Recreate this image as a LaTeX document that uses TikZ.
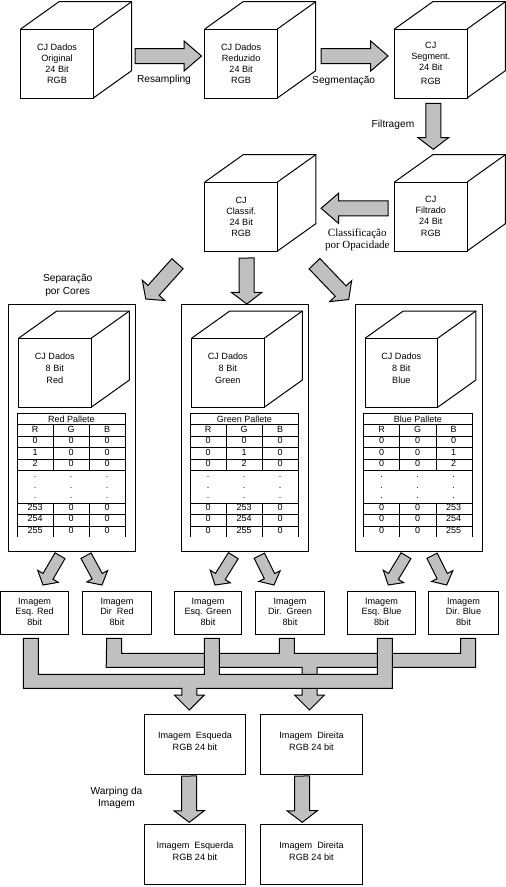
\documentclass[tikz,border=0pt]{standalone}
\usepackage{fontspec}
\setmainfont{Liberation Sans}
\newfontfamily\timesfont{Liberation Serif}
\usetikzlibrary{calc,positioning}
\definecolor{arrowgray}{HTML}{C0C0C0}
\tikzset{
  blockarrow/.style n args={3}{draw=black,fill=arrowgray,line width=1pt,miter limit=4,
    to path={let \p1=($(\tikztotarget)!#3pt!(\tikztostart)$) in
      ($(\tikztostart)!#1pt!90:(\tikztotarget)$) -- ($(\p1)!#1pt!90:(\tikztotarget)$)
      -- ($(\p1)!#2pt!90:(\tikztotarget)$) -- (\tikztotarget)
      -- ($(\p1)!#2pt!-90:(\tikztotarget)$) -- ($(\p1)!#1pt!-90:(\tikztotarget)$)
      -- ($(\tikztostart)!#1pt!-90:(\tikztotarget)$) -- cycle}},
  bigarrow/.style={blockarrow={7.5}{15}{17.4}},
  downarrow/.style={blockarrow={7.5}{15.2}{11.6}},
  slantarrow/.style={blockarrow={5.75}{11.9}{10}},
  busfill/.style={draw=black,fill=arrowgray,line width=1pt},
  cubeface/.style={draw=black,line width=1pt,inner sep=0pt,outer sep=0pt,align=center,
    minimum width=72.6pt,minimum height=69pt,font=\fontsize{9.1}{11}\selectfont},
  panel/.style={draw=black,line width=1pt,inner sep=0pt,outer sep=0pt,
    minimum width=127pt,minimum height=247.4pt},
  imgbox/.style={draw=black,line width=1pt,inner sep=0pt,outer sep=0pt,align=center,
    minimum height=43.4pt,font=\fontsize{9.1}{10.6}\selectfont},
  bigbox/.style={draw=black,line width=1pt,inner sep=0pt,outer sep=0pt,align=center,
    minimum height=60pt,font=\fontsize{9.1}{12}\selectfont},
  steplabel/.style={inner sep=0pt,align=center,font=\fontsize{10.2}{12.3}\selectfont},
  cell/.style={inner sep=0pt,font=\fontsize{9}{10}\selectfont}
}
\newcommand{\cubeback}[1]{
  \draw[line width=1pt] (#1.north west) -- ++(38.3,-27.3)
    -- ([shift={(38.3,-27.3)}]#1.north east) -- ([shift={(38.3,-27.3)}]#1.south east) -- (#1.south east);
  \draw[line width=1pt] (#1.north east) -- ++(38.3,-27.3);
}
\newcommand{\palletetable}[3]{
  \begin{scope}[shift={([shift={(8.6,109)}]#1.north west)}]
    \draw[line width=1pt] (0,123.4) -- (0,0) -- (108.7,0) -- (108.7,123.4);
    \foreach \l in {11,23,34,46,57,90,101,113}
      \draw[line width=1pt] (0,\l) -- (108.7,\l);
    \foreach \cx in {36.3,72.5} {
      \draw[line width=1pt] (\cx,11) -- (\cx,57);
      \draw[line width=1pt] (\cx,90) -- (\cx,123.4);
    }
    \node[cell] (#1title) at (54.3,5.5) {#2};
    \foreach \k/\h in {0/R,1/G,2/B} {
      \node[cell] (#1h\k) at ({18*(2*\k+1)},16.2) {\h};
      \foreach \rw/\ry/\v in {a/27.3/0,b/38.7/1,c/50/2,d/94/253,e/105.5/254,f/117/255} {
        \ifnum\k=#3 \edef\val{\v}\else\edef\val{0}\fi
        \node[cell] (#1c\k\rw) at ({18*(2*\k+1)},\ry) {\val};
      }
      \foreach \n/\ry in {a/64,b/74.4,c/85}
        \node[cell] (#1dot\k\n) at ({18*(2*\k+1)},\ry) {.};
    }
  \end{scope}
}
\begin{document}
\begin{tikzpicture}[x=1pt,y=-1pt]
  \useasboundingbox (0,0) rectangle (506,887);
  \node[cubeface] (orig) at (57,63.5) {CJ Dados\\Original\\24 Bit\\RGB};
  \node[cubeface,right=111.5pt of orig] (redu) {CJ Dados\\Reduzido\\24 Bit\\RGB};
  \node[cubeface,right=117.1pt of redu] (segm) {\null\\[-5pt]CJ\\Segment.\\24 Bit\\[3pt]RGB};
  \node[cubeface,below=84pt of segm] (filt) {CJ\\Filtrado\\24 Bit\\[1.5pt]RGB};
  \node[cubeface,left=117pt of filt] (clas) {CJ\\Classif.\\24 Bit\\RGB};
  \node[panel] (panelr) at (72,428) {};
  \node[panel,right=46pt of panelr] (panelg) {};
  \node[panel,right=46.5pt of panelg] (panelb) {};
  \node[cubeface,below right=34pt and 10pt of panelr.north west] (cuber)
    {CJ Dados\\[1pt]8 Bit\\[1pt]Red\\[-2pt]\null};
  \node[cubeface,below right=34pt and 10pt of panelg.north west] (cubeg)
    {CJ Dados\\[1pt]8 Bit\\[1pt]Green\\[-2pt]\null};
  \node[cubeface,below right=34pt and 10pt of panelb.north west] (cubeb)
    {CJ Dados\\[1pt]8 Bit\\[1pt]Blue\\[-2pt]\null};
  \foreach \c in {orig,redu,segm,filt,clas,cuber,cubeg,cubeb} {
    \cubeback{\c}
  }
  \palletetable{panelr}{Red Pallete}{0}
  \palletetable{panelg}{Green Pallete}{1}
  \palletetable{panelb}{Blue Pallete}{2}

  \node[imgbox,minimum width=68.2pt] (imgel) at (34.6,613) {Imagem\\Esq. Red\\8bit\\[-8pt]\null};
  \node[imgbox,minimum width=69.4pt,right=13.6pt of imgel] (imgdr) {Imagem\\Dir\ \ Red\\8bit\\[-8pt]\null};
  \node[imgbox,minimum width=67.4pt,right=22.6pt of imgdr] (imgeg) {Imagem\\Esq. Green\\8bit\\[-8pt]\null};
  \node[imgbox,minimum width=69.4pt,right=13.6pt of imgeg] (imgdg) {Imagem\\Dir.\ \ Green\\8bit\\[-8pt]\null};
  \node[imgbox,minimum width=68.4pt,right=22.6pt of imgdg] (imgeb) {Imagem\\Esq. Blue\\8bit\\[-8pt]\null};
  \node[imgbox,minimum width=70.4pt,right=12.6pt of imgeb] (imgdb) {Imagem\\Dir. Blue\\8bit\\[-8pt]\null};
  \node[bigbox,minimum width=101.4pt] (esqa) at (195,744.3) {Imagem\ \ Esqueda\\RGB 24 bit\\[-5pt]\null};
  \node[bigbox,minimum width=102.4pt,right=14.6pt of esqa] (dira) {Imagem\ \ Direita\\RGB 24 bit\\[-5pt]\null};
  \node[bigbox,minimum width=101.4pt,below=50pt of esqa] (esqb) {Imagem\ \ Esquerda\\RGB 24 bit\\[-5pt]\null};
  \node[bigbox,minimum width=102.4pt,below=50pt of dira] (dirb) {Imagem\ \ Direita\\RGB 24 bit\\[-5pt]\null};

  \node[steplabel] (lresa) at (164,80.3) {Resampling};
  \node[steplabel] (lsegm) at (343.7,80.7) {Segmenta\c{c}\~ao};
  \node[steplabel] (lfilt) at (393,125) {Filtragem};
  \node[steplabel,font=\timesfont\fontsize{11}{12.4}\selectfont] (lclas) at (357.3,239.5)
    {Classifica\c{c}\~ao\\por Opacidade};
  \node[steplabel] (lsepa) at (67.7,285.5) {Separa\c{c}\~ao\\por Cores};
  \node[steplabel] (lwarp) at (116.5,798) {Warping da\\Imagem};

  \draw[bigarrow] ([shift={(41.8,-7.5)}]orig.east) to ([shift={(-3.3,-7.5)}]redu.west);
  \draw[bigarrow] ([shift={(43.8,-7.5)}]redu.east) to ([shift={(-6.4,-7.5)}]segm.west);
  \draw[downarrow] ([shift={(2.5,5.3)}]segm.south) to ([shift={(2.5,-32.7)}]filt.north);
  \draw[bigarrow] ([shift={(-6.4,-8.2)}]filt.west) to ([shift={(43.6,-8.2)}]clas.east);
  \draw[downarrow] ([shift={(5.4,7)}]clas.south) to ([shift={(1.8,-0.3)}]panelg.north);
  \draw[downarrow] ([shift={(-27.4,12.7)}]clas.south west) to ([shift={(10.3,-5.3)}]panelr.north east);
  \draw[downarrow] ([shift={(37,12.7)}]clas.south east) to ([shift={(-6.3,-4.8)}]panelb.north west);

  \draw[slantarrow] ([shift={(-12,4)}]panelr.south) to ([shift={(8.4,-6.3)}]imgel.north);
  \draw[slantarrow] ([shift={(14,4)}]panelr.south) to ([shift={(-15,-6.3)}]imgdr.north);
  \draw[slantarrow] ([shift={(-11.7,4)}]panelg.south) to ([shift={(7,-6.3)}]imgeg.north);
  \draw[slantarrow] ([shift={(14.3,4)}]panelg.south) to ([shift={(-16,-6.3)}]imgdg.north);
  \draw[slantarrow] ([shift={(-12.5,4)}]panelb.south) to ([shift={(6.8,-6.3)}]imgeb.north);
  \draw[slantarrow] ([shift={(13.5,4)}]panelb.south) to ([shift={(-16.8,-6.3)}]imgdb.north);

  \draw[downarrow] ([shift={(-6,1.7)}]esqa.south) to ([shift={(-5.7,-2)}]esqb.north);
  \draw[downarrow] ([shift={(-9.5,1.7)}]dira.south) to ([shift={(-9.2,-2)}]dirb.north);

  \coordinate (busb1) at ([shift={(-2.8,3.6)}]imgdr.south);
  \coordinate (busb2) at ([shift={(-3.2,3.6)}]imgdg.south);
  \coordinate (busb3) at ([shift={(4.7,3.6)}]imgdb.south);
  \coordinate (busb4) at ([shift={(-2,-4.3)}]dira.north);
  \coordinate (busa1) at ([shift={(-3.8,3.6)}]imgel.south);
  \coordinate (busa2) at ([shift={(3.8,3.6)}]imgeg.south);
  \coordinate (busa3) at ([shift={(3.3,3.6)}]imgeb.south);
  \coordinate (busa4) at ([shift={(-5.7,-4.3)}]esqa.north);
  \draw[busfill] ([xshift=-7.5]busb1) -- ++(15,0) -- ++(0,15) -| ([xshift=-7.5]busb2)
    -- ++(15,0) -- ++(0,15) -| ([xshift=-7.5]busb3) -- ++(15,0) -- ++(0,29)
    -| ([shift={(7.5,-15)}]busb4) -- ++(7.5,0) -- (busb4) -- ++(-15,-15) -- ++(7.5,0)
    -- ++(0,-27.7) -- ++(-195.8,0) -- cycle;
  \draw[busfill] ([xshift=-7.5]busa1) -- ++(15,0) -- ++(0,36) -| ([xshift=-7.5]busa2)
    -- ++(15,0) -- ++(0,36) -| ([xshift=-7.5]busa3) -- ++(15,0) -- ++(0,50)
    -| ([shift={(7.5,-15)}]busa4) -- ++(7.5,0) -- (busa4) -- ++(-15,-15) -- ++(7.5,0)
    -- ++(0,-6.7) -- ++(-158.5,0) -- cycle;
\end{tikzpicture}
\end{document}
